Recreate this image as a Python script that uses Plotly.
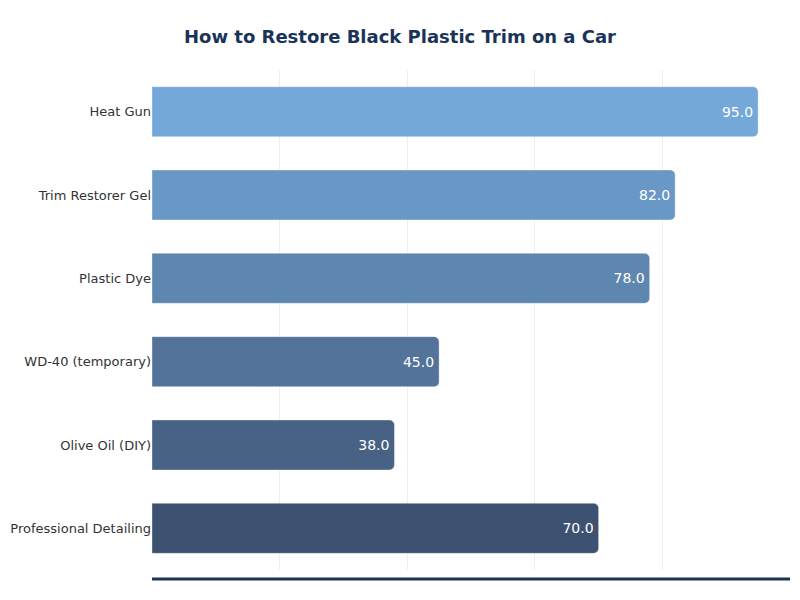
import plotly.graph_objects as go

# Methods and their scores, top to bottom as drawn
methods = [
    "Heat Gun",
    "Trim Restorer Gel",
    "Plastic Dye",
    "WD-40 (temporary)",
    "Olive Oil (DIY)",
    "Professional Detailing",
]
scores = [95, 82, 78, 45, 38, 70]
bar_colors = ["#74a8d9", "#6998c7", "#5e87b0", "#53739a", "#476284", "#3d5271"]

fig = go.Figure()
fig.add_trace(go.Bar(
    y=methods,
    x=scores,
    orientation="h",
    width=0.6,
    marker=dict(color=bar_colors, line=dict(color="rgba(255,255,255,0.35)", width=1)),
    text=[f"{v:.1f}" for v in scores],
    textposition="inside",
    insidetextanchor="end",
    textfont=dict(color="white", size=14, family="DejaVu Sans"),
    hoverinfo="skip",
))

fig.update_layout(
    title=dict(
        text="<b>How to Restore Black Plastic Trim on a Car</b>",
        x=0.49, xanchor="center", y=0.953, yanchor="middle",
        font=dict(size=18, color="#1a3358", family="DejaVu Sans"),
    ),
    width=800,
    height=600,
    margin=dict(l=144, r=18, t=62, b=38),
    plot_bgcolor="white",
    paper_bgcolor="white",
    barcornerradius=5,
    showlegend=False,
    font=dict(family="DejaVu Sans", color="#333333"),
)
fig.update_xaxes(
    range=[0, 100],
    dtick=20,
    showgrid=True,
    gridcolor="#eeeeee",
    gridwidth=1,
    showticklabels=False,
    zeroline=False,
    showline=False,
)
fig.update_yaxes(
    autorange="reversed",
    automargin=False,
    showgrid=False,
    ticks="",
    tickfont=dict(size=13, color="#333333"),
    showline=False,
)
# thick baseline under the plot
fig.add_shape(
    type="line", xref="paper", yref="paper",
    x0=0, x1=1, y0=-0.018, y1=-0.018,
    line=dict(color="#1a3358", width=3),
)

fig.write_html("out.html")
